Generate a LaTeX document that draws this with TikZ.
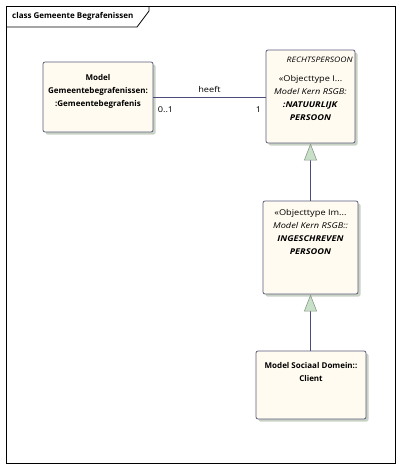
\documentclass[tikz,border=0pt]{standalone}
\usepackage{fontspec}
\setmainfont{Open Sans}
\newfontfamily\widefont[FakeStretch=1.15]{Open Sans}
\usetikzlibrary{arrows.meta,calc,positioning,shadows}
\usepackage{xcolor}
\definecolor{clsfill}{HTML}{FFFBF0}
\definecolor{clsline}{HTML}{5C5C7C}
\definecolor{connline}{HTML}{4C4C78}
\definecolor{clsshadow}{HTML}{C9D3C5}
\definecolor{genfill}{HTML}{C8DFC8}
\definecolor{genline}{HTML}{8A9A8A}

\begin{document}
\begin{tikzpicture}[x=1pt,y=-1pt,
  cls/.style={draw=clsline, fill=clsfill, line width=0.8pt, rounded corners=2pt,
    inner sep=0pt, drop shadow={shadow xshift=2.5pt, shadow yshift=-2.5pt, fill=clsshadow, opacity=1}},
  txt/.style={align=center, inner sep=0pt, anchor=north, font=\fontsize{8}{13}\widefont},
  boldtxt/.style={txt, font=\fontsize{8}{13}\selectfont\bfseries},
  lbl/.style={inner sep=0pt, font=\fontsize{8}{9}\widefont},
  gen/.style={draw=connline, line width=0.8pt,
    -{Triangle[length=17pt, width=13pt, color=genline, fill=genfill, line width=0.6pt]}}]
  \useasboundingbox (0,0) rectangle (401,469);
  % frame with title tab
  \draw[line width=0.8pt] (6,6) rectangle (395,463);
  \draw[line width=0.8pt] (6,27) -- (137,27) -- (149,11) -- (149,6);
  \node[anchor=west, inner sep=0pt, font=\fontsize{8}{9}\selectfont\bfseries] (title) at (12,16.5) {class Gemeente Begrafenissen};
  % classes
  \node[cls, minimum width=110pt, minimum height=70pt] (graf) at (98,97) {};
  \node[cls, minimum width=89pt, minimum height=93pt] (rechts) at (310.5,96.5) {};
  \node[cls, minimum width=95pt, minimum height=93pt] (inges) at (310.5,247.5) {};
  \node[cls, minimum width=110pt, minimum height=68pt] (client) at (311,385) {};
  % class texts
  \node[boldtxt, below=13pt of graf.north] (grafname)
    {Model\\Gemeentebegrafenissen:\\:Gemeentebegrafenis};
  \node[txt, anchor=north east, below left=7pt and 2.5pt of rechts.north east, font=\fontsize{7.5}{9}\widefont\itshape] (rechtsparent)
    {RECHTSPERSOON};
  \node[txt, below=26pt of rechts.north] (rechtsname)
    {«Objecttype I...\\\textit{Model Kern RSGB:}\\\textbf{\textit{:NATUURLIJK}}\\\textbf{\textit{PERSOON}}};
  \node[txt, below=9pt of inges.north] (ingesname)
    {«Objecttype Im...\\\textit{Model Kern RSGB::}\\\textbf{\textit{INGESCHREVEN}}\\\textbf{\textit{PERSOON}}};
  \node[boldtxt, below=12pt of client.north] (clientname)
    {Model Sociaal Domein::\\Client};
  % association
  \draw[draw=connline, line width=0.8pt] (graf.east) --
    node[lbl, midway, anchor=south, yshift=4pt] {heeft}
    node[lbl, pos=0, anchor=north west, xshift=4pt, yshift=-9pt] {0..1}
    node[lbl, pos=1, anchor=north east, xshift=-4pt, yshift=-9pt] {1} (graf.east -| rechts.west);
  % generalisations
  \draw[gen] (inges.north) -- (rechts.south);
  \draw[gen] (client.north -| inges.south) -- (inges.south);
\end{tikzpicture}
\end{document}
